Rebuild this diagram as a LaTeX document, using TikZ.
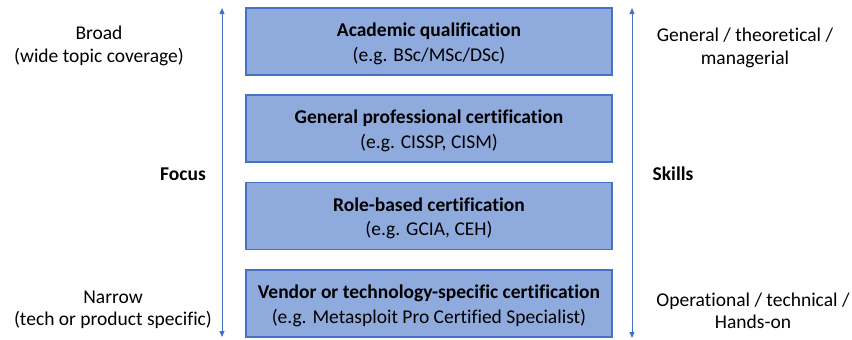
\documentclass[tikz,border=0pt]{standalone}
\usepackage{fontspec}
\setmainfont{Carlito}[Ligatures=CommonOff]
\usetikzlibrary{arrows.meta}
\definecolor{boxfill}{HTML}{8FAADC}
\definecolor{boxline}{HTML}{4472C4}
\begin{document}
\begin{tikzpicture}[x=1pt,y=-1pt,
  level/.style={draw=boxline, line width=1.5pt, fill=boxfill, minimum width=366pt,
    minimum height=67pt, inner sep=0pt},
  boxtext/.style={align=center, inner sep=0pt, yshift=-2.5pt,
    font=\fontsize{19.5}{24.5}\selectfont},
  side/.style={align=center, font=\fontsize{19.5}{22.5}\selectfont, inner sep=0pt},
  axis/.style={draw=boxline, line width=1pt, {Triangle[length=6pt,width=5pt]}-{Triangle[length=6pt,width=5pt]}}]
\useasboundingbox (0,0) rectangle (852,340);
% stacked levels
\node[level, label={[boxtext]center:{\textbf{Academic qualification}\\(e.g. BSc/MSc/DSc)}}] (acad) at (429,41.5) {};
\node[level, label={[boxtext]center:{\textbf{General professional certification}\\(e.g. CISSP, CISM)}}] (gen) at (429,128.5) {};
\node[level, label={[boxtext]center:{\textbf{Role-based certification}\\(e.g. GCIA, CEH)}}] (role) at (429,216) {};
\node[level, label={[boxtext]center:{\textbf{Vendor or technology-specific certification}\\(e.g. Metasploit Pro Certified Specialist)}}] (vend) at (429,303.5) {};
% axes
\coordinate (ltop) at (222,8);
\coordinate (lbot) at (222,337);
\coordinate (rtop) at (632,8);
\coordinate (rbot) at (632,338);
\draw[axis] (ltop) -- (lbot);
\draw[axis] (rtop) -- (rbot);
% side labels
\node[side] (broad) at (99,46) {Broad\\(wide topic coverage)};
\node[side] (narrow) at (113,310) {Narrow\\(tech or product specific)};
\node[side, font=\fontsize{19.5}{22.5}\selectfont\bfseries] (focus) at (183,174) {Focus};
\node[side] (general) at (745,48) {General / theoretical /\\managerial};
\node[side] (oper) at (753,311) {Operational / technical /\\Hands-on};
\node[side, font=\fontsize{19.5}{22.5}\selectfont\bfseries] (skills) at (673,174) {Skills};
\end{tikzpicture}
\end{document}
